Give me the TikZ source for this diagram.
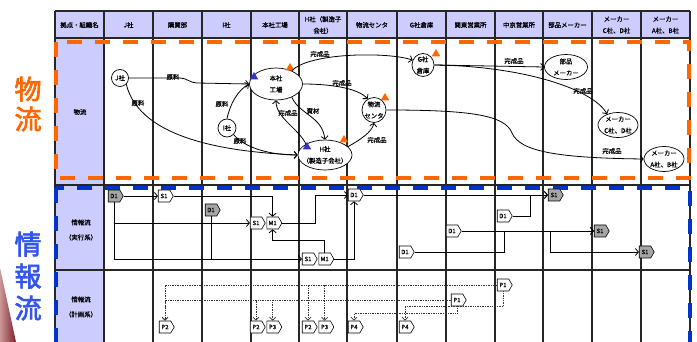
\documentclass[tikz,border=0pt]{standalone}
\usepackage{fontspec}
\setmainfont{Noto Sans CJK JP}[FakeBold=0.7]
\newfontfamily\bigjp{Noto Sans CJK JP}[FakeBold=2.5]
\usepackage{xcolor}
\usepackage{tikz}
\usetikzlibrary{arrows.meta,positioning,calc,shapes.geometric,shapes.symbols}
\definecolor{lavender}{RGB}{204,204,255}
\definecolor{floworange}{RGB}{255,102,0}
\definecolor{infoblue}{RGB}{0,51,204}
\definecolor{titleblue}{RGB}{51,85,238}
\definecolor{tagfill}{RGB}{166,166,166}
\definecolor{markblue}{RGB}{51,51,204}
\definecolor{wedgelight}{RGB}{205,150,150}
\definecolor{wedgedark}{RGB}{120,35,45}
\newcommand{\jpsmall}{\fontsize{6.4}{11.5}\selectfont}
\tikzset{
  gridline/.style={line width=1.1pt,draw=black!85},
  headtext/.style={font=\jpsmall,align=center,inner sep=0pt},
  site/.style={draw,fill=white,ellipse,inner sep=0pt,line width=0.7pt},
  sitetext/.style={font=\jpsmall,align=center,inner sep=0pt},
  flowarrow/.style={-{Straight Barb[length=3pt,width=7pt]},line width=0.8pt},
  flowlabel/.style={font=\jpsmall,inner sep=0pt},
  marker/.style={regular polygon,regular polygon sides=3,inner sep=0pt,minimum size=10pt},
  tagbox/.style={signal,signal to=east,signal pointer angle=120,draw,line width=0.6pt,
    fill=white,minimum width=15pt,minimum height=12pt,inner sep=0.6pt,
    font=\fontsize{6}{7}\selectfont},
  darktag/.style={tagbox,fill=tagfill},
  infoarrow/.style={-{Straight Barb[length=3pt,width=7pt]},line width=0.8pt},
  planarrow/.style={-{Straight Barb[length=3pt,width=6pt]},line width=0.7pt,
    densely dotted,draw=black!80}
}

\begin{document}
\begin{tikzpicture}[x=1pt,y=-1pt]
  \useasboundingbox (0,0) rectangle (697,342);
  % table background and grid
  \fill[lavender] (55,11) rectangle (690,38);
  \fill[lavender] (55,38) rectangle (104,342);
  \shade[left color=wedgelight,right color=wedgedark] (0,268) -- (16,342) -- (0,342) -- cycle;
  \foreach \x in {55,104,153,202,251,299,347,397,446,495,543,592,641,690}
    \draw[gridline] (\x,11) -- (\x,342);
  \foreach \y in {11,38,185,270}
    \draw[gridline] (55,\y) -- (690,\y);

  % header
  \node[headtext] (h0) at (79.5,25) {拠点・組織名};
  \node[headtext] (h1) at (128.5,25) {J社};
  \node[headtext] (h2) at (177.5,25) {購買部};
  \node[headtext] (h3) at (226.5,25) {I社};
  \node[headtext] (h4) at (275,25) {本社工場};
  \node[headtext] (h5) at (323,25) {H社（製造子\\会社）};
  \node[headtext] (h6) at (372,25) {物流センタ};
  \node[headtext] (h7) at (421.5,25) {G社倉庫};
  \node[headtext] (h8) at (470.5,25) {関東営業所};
  \node[headtext] (h9) at (519,25) {中京営業所};
  \node[headtext] (h10) at (567.5,25) {部品メーカー};
  \node[headtext] (h11) at (616.5,25) {メーカー\\C社、D社};
  \node[headtext] (h12) at (665.5,25) {メーカー\\A社、B社};

  % row titles
  \node[headtext] (rowflow) at (80,112) {物流};
  \node[headtext,font=\fontsize{6.4}{15}\selectfont] (rowexec) at (81,230) {情報流\\（実行系）};
  \node[headtext,font=\fontsize{6.4}{15}\selectfont] (rowplan) at (81,307) {情報流\\（計画系）};
  \node[align=center,text=floworange,font=\bigjp\fontsize{27}{30}\selectfont] (bigflow) at (28,104) {物\\流};
  \node[align=center,text=titleblue,font=\bigjp\fontsize{27}{32}\selectfont] (biginfo) at (28,276) {情\\報\\流};

  % dashed frames
  \draw[floworange,line width=4pt,dash pattern=on 15pt off 13pt] (56,42) rectangle (689,178);
  \draw[infoblue,line width=4pt,dash pattern=on 15pt off 13pt] (56,188) rectangle (690,370);

  % physical flow
  \node[site,minimum width=17pt,minimum height=17pt,label={[sitetext]center:J社}] (jco) at (120,78) {};
  \node[site,minimum width=18pt,minimum height=18pt,label={[sitetext]center:I社}] (ico) at (227,128) {};
  \node[site,minimum width=53pt,minimum height=32pt,label={[sitetext]center:{本社\\工場}}] (plant) at (276,84) {};
  \node[site,minimum width=54pt,minimum height=30pt,label={[sitetext]center:{H社\\（製造子会社）}}] (hco) at (325,155) {};
  \node[site,minimum width=24pt,minimum height=25pt,label={[sitetext]center:{物流\\センタ}}] (center) at (374,110) {};
  \node[site,minimum width=22pt,minimum height=23pt,label={[sitetext]center:{G社\\倉庫}}] (gwh) at (423,65) {};
  \node[site,minimum width=43pt,minimum height=25pt,label={[sitetext]center:{部品\\メーカー}}] (parts) at (566,67) {};
  \node[site,minimum width=40pt,minimum height=25pt,label={[sitetext]center:{メーカー\\C社、D社}}] (makercd) at (618,125) {};
  \node[site,minimum width=40pt,minimum height=25pt,label={[sitetext]center:{メーカー\\A社、B社}}] (makerab) at (664,159) {};

  \node[marker,fill=markblue] (mk1) at (254,77) {};
  \node[marker,fill=floworange] (mk2) at (290,68) {};
  \node[marker,fill=markblue] (mk3) at (307,147) {};
  \node[marker,fill=floworange] (mk4) at (344,140) {};
  \node[marker,fill=floworange] (mk5) at (385,98) {};
  \node[marker,fill=floworange] (mk6) at (436,54) {};

  \draw[flowarrow] (jco.east) -- (180,78) to[out=0,in=180] (197,83) -- (plant.west)
    node[flowlabel] (lb1) at (173,77) {原料};
  \draw[flowarrow] (jco.south east) .. controls (140,140) and (230,152) .. (hco.west)
    node[flowlabel] (lb2) at (138,103) {原料};
  \draw[flowarrow] (ico.north) .. controls (230,104) and (238,90) .. (plant.west)
    node[flowlabel] (lb3) at (222,104) {原料};
  \draw[flowarrow] (ico.south east) .. controls (245,148) and (270,155) .. (hco.west)
    node[flowlabel] (lb4) at (240,141) {原料};
  \draw[flowarrow] (plant.40) .. controls (310,52) and (390,52) .. (gwh.155)
    node[flowlabel] (lb5) at (320,54) {完成品};
  \draw[flowarrow] (plant.east) .. controls (330,84) and (358,88) .. (center.120)
    node[flowlabel] (lb6) at (342,83) {完成品};
  \draw[flowarrow] (hco.150) .. controls (298,128) and (276,118) .. (plant.south)
    node[flowlabel] (lb7) at (288,113) {完成品};
  \draw[flowarrow] (plant.-40) .. controls (300,115) and (322,116) .. (hco.north)
    node[flowlabel] (lb8) at (313,111) {資材};
  \draw[flowarrow] (hco.20) .. controls (360,140) and (372,132) .. (center.south)
    node[flowlabel] (lb9) at (377,140) {完成品};
  \draw[flowarrow] (gwh.east) -- (parts.west)
    node[flowlabel] (lb10) at (514,61) {完成品};
  \draw[flowarrow] (gwh.east) .. controls (520,66) and (592,88) .. (makercd.135)
    node[flowlabel] (lb11) at (583,91) {完成品};
  \draw[flowarrow] (center.east) .. controls (470,110) and (505,115) .. (512,133)
    .. controls (520,152) and (560,158) .. (makerab.west)
    node[flowlabel] (lb12) at (612,151) {完成品};

  % information flow (execution)
  \node[darktag] (d1j) at (114,196) {D1};
  \node[tagbox] (s1a) at (164,196) {S1};
  \node[darktag] (d1i) at (211,210) {D1};
  \node[tagbox] (s1b) at (256,223) {S1};
  \node[tagbox,right=1pt of s1b] (m1b) {M1};
  \node[tagbox] (s1c) at (308,259) {S1};
  \node[tagbox,right=1pt of s1c] (m1c) {M1};
  \node[tagbox] (d1h) at (354,195) {D1};
  \node[tagbox] (d1g) at (405,252) {D1};
  \node[tagbox] (d1k) at (452,231) {D1};
  \node[tagbox] (d1ch) at (503,216) {D1};
  \node[darktag] (s1p) at (554,195) {S1};
  \node[darktag] (s1cd) at (600,231) {S1};
  \node[darktag] (s1ab) at (645,252) {S1};

  \draw[infoarrow] (d1j.east) -- (s1a.west);
  \draw[infoarrow] (d1j.south) |- (s1b.west);
  \draw[infoarrow] (d1j.south) |- (s1c.west);
  \draw[line width=0.8pt] (d1i.south) -- (d1i.south |- s1c.west);
  \draw[infoarrow] (s1a.east) -| (m1b.north);
  \draw[infoarrow] (m1c.north) -- ++(0,-12) -| (m1b.south);
  \draw[infoarrow] (m1b.east) -- ++(33,0) |- (d1h.west);
  \draw[infoarrow] (m1c.east) -| (d1h.south);
  \draw[infoarrow] (d1h.east) -- (s1p.west);
  \draw[infoarrow] (d1ch.east) -- ++(18,0) |- (s1p.west);
  \draw[infoarrow] (d1k.east) -- (s1cd.west);
  \draw[infoarrow] (d1g.east) -- ++(90,0) |- (s1cd.west);
  \draw[infoarrow] (d1k.east) -- ++(89,0) |- (s1ab.west);

  % information flow (planning)
  \node[tagbox] (p1a) at (503,285) {P1};
  \node[tagbox] (p1b) at (457,300) {P1};
  \node[tagbox] (p2a) at (165,327) {P2};
  \node[tagbox] (p2b) at (256,327) {P2};
  \node[tagbox,right=1pt of p2b] (p3b) {P3};
  \node[tagbox] (p2c) at (308,327) {P2};
  \node[tagbox,right=1pt of p2c] (p3c) {P3};
  \node[tagbox] (p4a) at (354,327) {P4};
  \node[tagbox] (p4b) at (405,327) {P4};

  \draw[planarrow] (p1a.west) -| (p2a.north);
  \draw[planarrow] (p1a.west) -| (p2c.north);
  \draw[planarrow] (p1a.west) -| (p3c.north);
  \draw[planarrow] (p1b.west) -| (p2a.north);
  \draw[planarrow] (p1b.west) -| (p2b.north);
  \draw[planarrow] (p1b.west) -| (p3b.north);
  \draw[planarrow] (p1a.south) -- ++(0,15) -| (p4b.north);
  \draw[planarrow] (p1b.south) -- ++(0,7) -| (p4a.north);
\end{tikzpicture}
\end{document}
